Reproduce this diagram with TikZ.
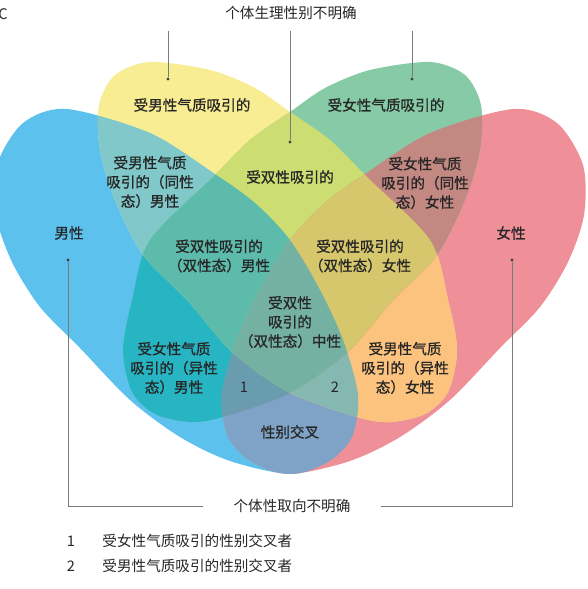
\documentclass[tikz,border=0pt]{standalone}
\usepackage{fontspec}
\newfontfamily\cjk{Noto Sans CJK SC}
\newfontfamily\cjkbold[FakeBold=0.8]{Noto Sans CJK SC}
\usetikzlibrary{positioning}

% single sets
\definecolor{cB}{HTML}{5CC1EC}
\definecolor{cY}{HTML}{F8ED93}
\definecolor{cG}{HTML}{86CBA5}
\definecolor{cP}{HTML}{EF9099}
% pairs
\definecolor{cBY}{HTML}{80C8CA}
\definecolor{cBG}{HTML}{27B5C4}
\definecolor{cBP}{HTML}{7FA3C6}
\definecolor{cYG}{HTML}{CCDD72}
\definecolor{cYP}{HTML}{FBC37E}
\definecolor{cGP}{HTML}{C48883}
% triples and all four
\definecolor{cBYG}{HTML}{5DBBAB}
\definecolor{cBYP}{HTML}{86B8B2}
\definecolor{cBGP}{HTML}{6A9CB0}
\definecolor{cYGP}{HTML}{D6C76D}
\definecolor{cAll}{HTML}{74B1A2}
\definecolor{guidegray}{HTML}{7A7A7A}

\newcommand{\shpblue}{plot[smooth cycle] coordinates {(23,123) (67,109) (150,133) (212,172) (255,203) (290,240) (320,290) (343,340) (358,395) (352,437) (328,462) (290,474) (230,461) (180,437) (130,400) (80,348) (40,307) (12,262) (-4,215) (-3,165)}}
\newcommand{\shppink}{plot[smooth cycle] coordinates {(557,123) (513,109) (430,133) (368,172) (325,203) (290,240) (260,290) (237,340) (222,395) (228,437) (252,462) (290,474) (350,461) (400,437) (450,400) (500,348) (540,307) (568,262) (584,215) (583,165)}}
\newcommand{\shpyellow}{plot[smooth cycle] coordinates {(150,62) (210,70) (255,88) (290,112) (330,140) (367,177) (430,240) (448,300) (457,350) (448,392) (425,414) (390,422) (357,417) (290,393) (233,353) (187,300) (143,255) (115,200) (100,150) (99,105) (115,75)}}
\newcommand{\shpgreen}{plot[smooth cycle] coordinates {(430,62) (370,70) (325,88) (290,112) (250,140) (213,177) (150,240) (132,300) (123,350) (132,392) (155,414) (190,422) (223,417) (290,393) (347,353) (393,300) (437,255) (465,200) (480,150) (481,105) (465,75)}}

\begin{document}
\begin{tikzpicture}[
    x=1pt, y=-1pt,
    lbl/.style={align=center, inner sep=0pt, text=black!85, font=\cjkbold\fontsize{14.6}{19.2}\selectfont},
    plain/.style={inner sep=0pt, text=black!85, font=\cjk\fontsize{14.6}{19.2}\selectfont},
    guide/.style={draw=guidegray, line width=0.8pt},
    dot/.style={circle, fill=black!75, inner sep=0pt, minimum size=3.2pt}
]
\useasboundingbox (0,0) rectangle (587,589);

% Sets
\fill[cB] \shpblue;
\fill[cP] \shppink;
\fill[cY] \shpyellow;
\fill[cG] \shpgreen;

% Overlaps of two
\begin{scope} \clip \shpblue; \fill[cBY] \shpyellow; \end{scope}
\begin{scope} \clip \shpblue; \fill[cBG] \shpgreen; \end{scope}
\begin{scope} \clip \shpblue; \fill[cBP] \shppink; \end{scope}
\begin{scope} \clip \shpyellow; \fill[cYG] \shpgreen; \end{scope}
\begin{scope} \clip \shpyellow; \fill[cYP] \shppink; \end{scope}
\begin{scope} \clip \shpgreen; \fill[cGP] \shppink; \end{scope}

% Overlaps of three and four
\begin{scope} \clip \shpblue; \clip \shpyellow; \fill[cBYG] \shpgreen; \end{scope}
\begin{scope} \clip \shpblue; \clip \shpyellow; \fill[cBYP] \shppink; \end{scope}
\begin{scope} \clip \shpblue; \clip \shpgreen; \fill[cBGP] \shppink; \end{scope}
\begin{scope} \clip \shpyellow; \clip \shpgreen; \fill[cYGP] \shppink; \end{scope}
\begin{scope} \clip \shpblue; \clip \shpyellow; \clip \shpgreen; \fill[cAll] \shppink; \end{scope}

% Region labels
\node[lbl] (lym) at (192,105) {受男性气质吸引的};
\node[lbl] (lyf) at (386,105) {受女性气质吸引的};
\node[lbl] (lhomm) at (150,182) {受男性气质\\吸引的（同性\\态）男性};
\node[lbl] (lbi) at (290,177) {受双性吸引的};
\node[lbl] (lhomf) at (425,183) {受女性气质\\吸引的（同性\\态）女性};
\node[lbl] (lmale) at (69,233) {男性};
\node[lbl] (lfemale) at (511,233) {女性};
\node[lbl] (lbim) at (219,256) {受双性吸引的\\（双性态）男性};
\node[lbl] (lbif) at (360,256) {受双性吸引的\\（双性态）女性};
\node[lbl] (lneut) at (290,322) {受双性\\吸引的\\（双性态）中性};
\node[lbl] (lhetm) at (174,368) {受女性气质\\吸引的（异性\\态）男性};
\node[lbl] (lhetf) at (405,368) {受男性气质\\吸引的（异性\\态）女性};
\node[plain] (lone) at (244,387) {1};
\node[plain] (ltwo) at (335,387) {2};
\node[lbl] (linter) at (290,432) {性别交叉};

% Top guides
\node[plain] (cpanel) at (3,14) {C};
\node[plain] (tophead) at (291,13) {个体生理性别不明确};
\coordinate (tl) at (168,31);
\coordinate (tm) at (290,31);
\coordinate (tr) at (412,31);
\node[dot] (dl) at (168,79) {};
\node[dot] (dm) at (290,142) {};
\node[dot] (dr) at (412,79) {};
\draw[guide] (tl) -- (dl);
\draw[guide] (tm) -- (dm);
\draw[guide] (tr) -- (dr);

% Bottom bracket
\node[plain, inner xsep=30pt] (bottomhead) at (292,506) {个体性取向不明确};
\node[dot] (bl) at (68,260) {};
\node[dot] (br) at (512,260) {};
\coordinate (cl) at (68,506);
\coordinate (cr) at (512,506);
\draw[guide] (bl) -- (cl) -- (bottomhead.west);
\draw[guide] (br) -- (cr) -- (bottomhead.east);

% Legend
\node[plain] (k1) at (71,541) {1};
\node[plain, right=27pt of k1] (t1) {受女性气质吸引的性别交叉者};
\node[plain] (k2) at (71,566) {2};
\node[plain, right=27pt of k2] (t2) {受男性气质吸引的性别交叉者};

\end{tikzpicture}
\end{document}
